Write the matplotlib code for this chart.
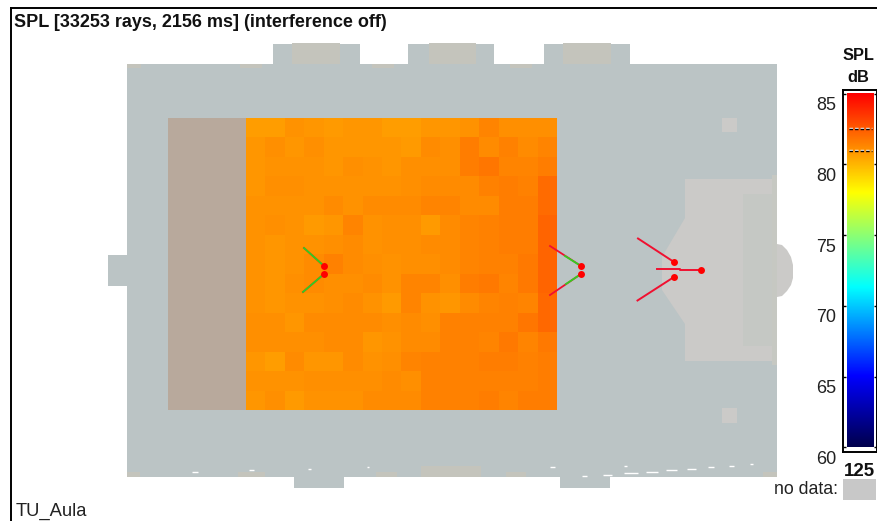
#!/usr/bin/env python
# -*- coding: utf-8 -*-

import numpy as np
import matplotlib
matplotlib.use("Agg")
import matplotlib.pyplot as plt
from matplotlib.colors import LinearSegmentedColormap, Normalize
from matplotlib.patches import Polygon, Rectangle
from matplotlib.transforms import ScaledTranslation

plt.rcParams['font.family'] = ['Liberation Sans', 'DejaVu Sans']

# SPL per audience cell [dB], 15 rows x 16 columns, front row first
spl = [
    [80.65, 80.65, 80.97, 80.86, 80.76, 80.86, 80.86, 80.65, 80.65, 80.86, 80.86, 80.97, 81.29, 81.08, 81.08, 81.08],
    [80.86, 81.08, 80.86, 81.08, 80.86, 80.86, 80.86, 80.86, 80.76, 81.19, 81.08, 81.50, 81.19, 81.40, 81.19, 81.29],
    [80.86, 80.97, 80.97, 80.97, 80.86, 81.08, 80.97, 80.86, 81.08, 81.08, 81.08, 81.50, 81.70, 81.29, 81.29, 81.50],
    [80.86, 81.08, 81.08, 80.97, 80.97, 80.97, 80.97, 80.97, 81.08, 81.19, 81.19, 81.19, 81.40, 81.50, 81.40, 82.00],
    [80.97, 80.97, 80.97, 80.97, 81.19, 80.97, 81.19, 81.19, 81.19, 81.29, 81.29, 81.19, 81.19, 81.50, 81.50, 82.00],
    [80.97, 81.08, 80.97, 80.76, 80.86, 81.29, 80.97, 81.08, 81.08, 80.76, 81.19, 81.29, 81.40, 81.50, 81.50, 82.25],
    [80.97, 80.86, 80.97, 80.97, 81.08, 81.19, 80.97, 81.08, 81.08, 81.19, 81.19, 81.29, 81.40, 81.50, 81.50, 82.25],
    [80.97, 80.86, 80.97, 81.19, 81.40, 81.19, 81.08, 80.97, 81.08, 81.08, 81.19, 81.29, 81.40, 81.40, 81.60, 82.25],
    [80.97, 80.86, 81.08, 81.19, 81.08, 81.08, 81.19, 80.97, 81.29, 81.29, 81.08, 81.50, 81.60, 81.29, 81.60, 82.25],
    [80.97, 80.86, 80.97, 80.97, 81.08, 81.19, 80.97, 80.76, 81.29, 80.97, 80.86, 81.19, 81.29, 81.40, 81.29, 82.15],
    [81.08, 81.08, 80.86, 81.19, 81.19, 81.19, 81.19, 81.08, 81.19, 81.08, 81.40, 81.40, 81.40, 81.40, 81.70, 82.15],
    [81.08, 81.08, 81.08, 81.08, 81.19, 81.19, 80.86, 80.97, 81.19, 81.19, 81.40, 81.40, 81.29, 81.60, 81.29, 81.60],
    [80.86, 80.65, 81.19, 80.86, 80.86, 81.19, 80.97, 81.08, 81.29, 81.40, 81.40, 81.40, 81.50, 81.50, 81.40, 81.50],
    [80.97, 80.97, 80.97, 81.08, 81.08, 81.08, 81.08, 81.19, 81.08, 81.40, 81.40, 81.40, 81.40, 81.40, 81.40, 81.50],
    [80.86, 81.08, 80.76, 80.97, 80.97, 80.97, 81.19, 81.19, 81.19, 81.40, 81.40, 81.40, 81.50, 81.29, 81.50, 81.50],
]
spl_ticks = [60, 65, 70, 75, 80, 85]
spl_range = [81.0, 82.56]    # dashed marks in the colour bar

# floor plan outlines, x0, y0, x1, y1 in plan units
hall = [
    (127, 64, 777, 477),
    (273, 44, 360, 64), (408, 44, 494, 64), (544, 44, 630, 64),
    (108, 255, 127, 286),
    (294, 477, 344, 488), (560, 477, 610, 488),
]
walls_beige = [
    (292, 43, 340, 64), (429, 43, 476, 64), (563, 43, 611, 64),
    (127, 64, 141, 68), (240, 64, 262, 68), (372, 64, 394, 68), (510, 64, 532, 68),
    (127, 472, 140, 477), (238, 472, 265, 477), (376, 472, 397, 477),
    (421, 466, 481, 477), (506, 472, 526, 477), (763, 472, 777, 477),
]
squares = [(722, 118, 737, 132), (722, 408, 737, 423)]
seating = (168, 118, 246, 410)
stage = [(685, 179), (772, 179), (772, 361), (685, 361), (685, 324), (662, 290), (662, 257), (685, 218)]
stage_back = (743, 194, 772, 346)
stage_strip = (772, 175, 777, 365)
apse_x = [777, 782, 787, 791, 793, 793, 791, 787, 782, 777]
apse_y = [244, 245, 250, 257, 265, 278, 285, 291, 296, 297]
grid_x = np.linspace(246, 557, 17)
grid_y = np.linspace(118, 410, 16)

# white gaps along the bottom wall
gaps = [(195, 472, 6), (252, 470, 5), (310, 469, 3), (368, 467, 2), (553, 467, 5), (585, 476, 5),
        (608, 475, 9), (631, 473, 14), (652, 472, 12), (672, 470, 11), (692, 469, 9), (711, 467, 6),
        (732, 466, 5), (752, 464, 3), (626, 466, 3)]

# loudspeakers: point, then the aiming line
speakers = [
    [(674, 262), (638, 238.5)],
    [(674, 277), (637.5, 300.5)],
    [(701, 270), (680, 270), (680, 268.5), (657.5, 268.5)],
]
delays = [
    ((581, 266), (550, 246), (565, 256)),
    ((581, 274), (550, 295), (566, 284)),
    ((324, 266), (304, 248), (304, 248)),
    ((324, 274), (303, 292), (303, 292)),
]

cmap = LinearSegmentedColormap.from_list("spl", [
    (0.0, (0, 0, 0.3)), (0.2, (0, 0, 1)), (0.452, (0, 1, 1)),
    (0.72, (1, 1, 0)), (1.0, (1, 0, 0))])
norm = Normalize(60, 85)


def box(ax, r, color, z):
    ax.add_patch(Rectangle((r[0], r[1]), r[2] - r[0], r[3] - r[1], fc=color, ec='none', zorder=z))


fig = plt.figure(figsize=(8.78, 5.21), dpi=100)
ax = fig.add_axes([0, 0, 1, 1])
ax.set_xlim(0, 878)
ax.set_ylim(521, 0)
ax.axis('off')

########################################################################
# floor plan
########################################################################

for r in hall:
    box(ax, r, '#bbc4c5', 1)
for r in walls_beige:
    box(ax, r, '#c4c4bc', 2)
box(ax, seating, '#b8a99c', 2)
for r in squares:
    box(ax, r, '#cbcac8', 2)
ax.add_patch(Polygon(stage, fc='#cbcac8', ec='none', zorder=2))
ax.add_patch(Polygon(list(zip(apse_x, apse_y)), fc='#cbcac8', ec='none', zorder=2))
box(ax, stage_back, '#c5c8c4', 3)
box(ax, stage_strip, '#c6c8c2', 3)

for x, y, w in gaps:
    ax.plot([x - w / 2, x + w / 2], [y, y], color='white', lw=1.0, solid_capstyle='butt', zorder=3)

ax.pcolormesh(grid_x, grid_y, np.array(spl), cmap=cmap, norm=norm, zorder=4)

########################################################################
# sources
########################################################################

for path in speakers:
    xs = [p[0] for p in path]
    ys = [p[1] for p in path]
    ax.plot(xs, ys, color='#f01030', lw=1.4, zorder=5)
    ax.plot(xs[0], ys[0], 'o', color='red', ms=5, mew=0, zorder=6)

for p, e, g in delays:
    ax.plot([p[0], e[0]], [p[1], e[1]], color='#f01030', lw=1.3, zorder=5)
    ax.plot([p[0], g[0]], [p[1], g[1]], color='#30d020', lw=1.3, zorder=5)
    ax.plot(p[0], p[1], 'o', color='red', ms=5, mew=0, zorder=6)

# window frame
ax.plot([11, 11], [521, 8], color='black', lw=1.4, zorder=7)
ax.plot([11, 878], [8, 8], color='black', lw=1.4, zorder=7)

########################################################################
# texts
########################################################################

ax.text(14, 22.5, "SPL [33253 rays, 2156 ms] (interference off)", fontsize=13, fontweight='bold',
        va='center', ha='left', color='#111111')
ax.text(858.5, 56, "SPL", fontsize=11.8, fontweight='bold', va='center', ha='center', color='#111111')
ax.text(858.5, 78, "dB", fontsize=11.8, fontweight='bold', va='center', ha='center', color='#111111')
ax.text(859, 472, "125", fontsize=13.5, fontweight='bold', va='center', ha='center', color='#111111')
ax.text(838, 490, "no data:", fontsize=12.8, va='center', ha='right', color='#222222')
ax.text(16, 511, "TU_Aula", fontsize=13.2, va='center', ha='left', color='#222222')
box(ax, (843, 479, 876, 500), '#c8c8c8', 2)

########################################################################
# colour bar
########################################################################

# 85 dB sits at 93.5 px, 14.16 px per dB
W, H = 878.0, 521.0
cax = fig.add_axes([843 / W, 1 - 452 / H, 34 / W, 362 / H])
levels = np.linspace(60, 85, 256)
cax.imshow(levels[::-1].reshape(-1, 1), cmap=cmap, norm=norm, aspect='auto',
           extent=[0.118, 0.91, 60, 85])
cax.set_xlim(0, 1)
cax.set_ylim(59.68, 85.25)
cax.set_xticks([])
cax.set_yticks(spl_ticks)
cax.set_yticklabels([str(t) for t in spl_ticks], fontsize=13, va='center', color='#222222')
cax.tick_params(axis='y', direction='in', length=2, width=1, left=True, right=True, pad=5)
# labels hang under their ticks
shift = ScaledTranslation(0, -12 / 100, fig.dpi_scale_trans)
for lab in cax.get_yticklabels():
    lab.set_transform(lab.get_transform() + shift)
for s in cax.spines.values():
    s.set_linewidth(1.4)
for v in spl_range:
    cax.hlines(v, 0.18, 0.85, color='white', lw=1, linestyles=(0, (2.5, 1.5)))
    cax.hlines(v - 0.07, 0.18, 0.85, color='black', lw=1, linestyles=(0, (2.5, 1.5)))

plt.savefig("out.png", dpi=100)
